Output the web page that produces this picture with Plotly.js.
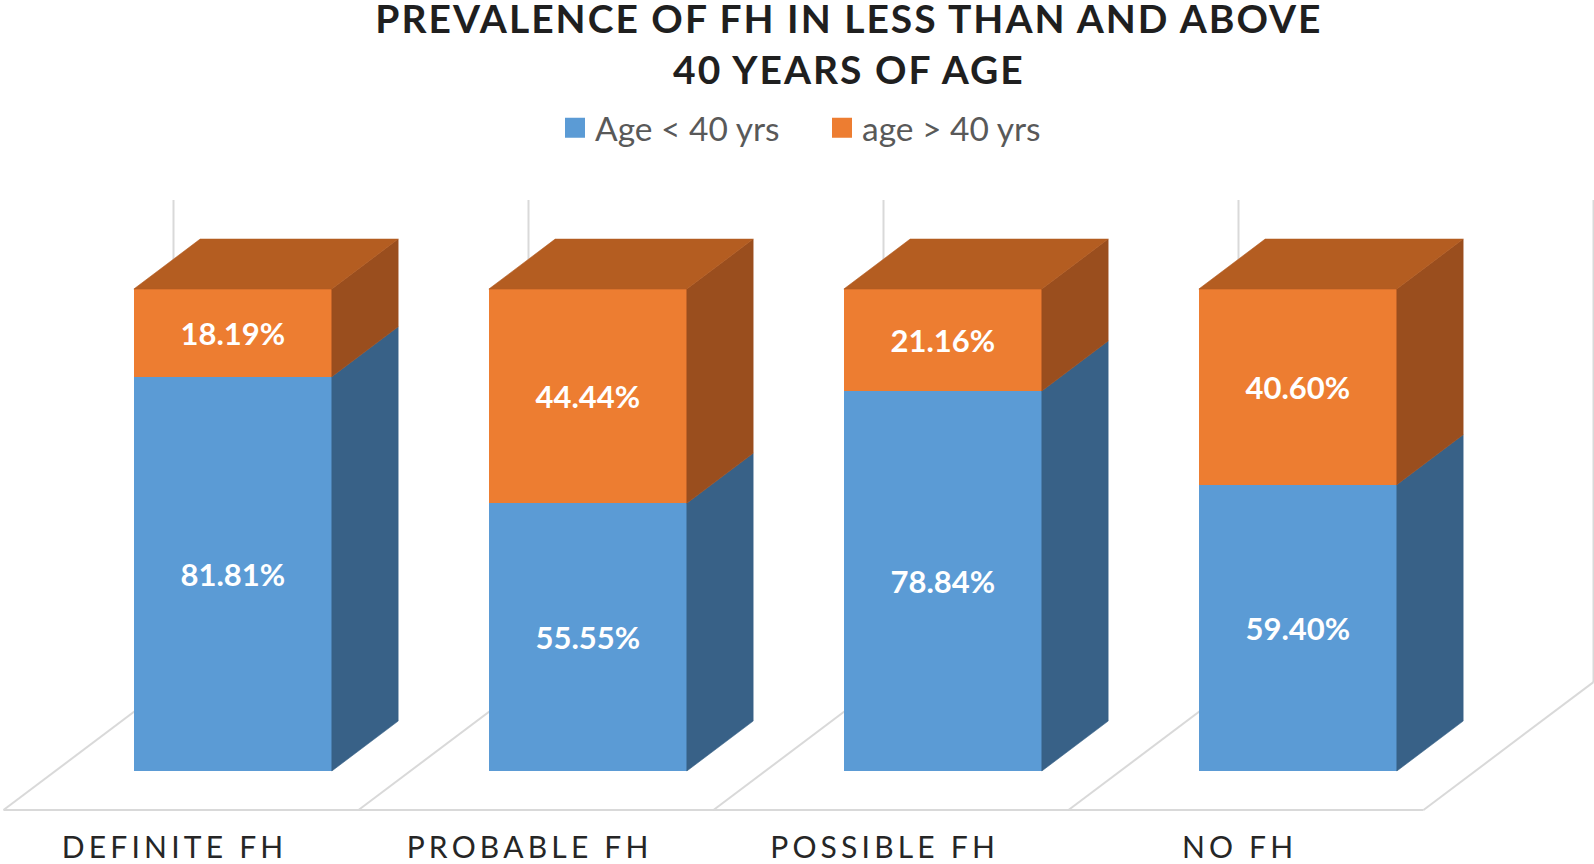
<!DOCTYPE html>
<html><head><meta charset="utf-8">
<script src="https://cdn.plot.ly/plotly-3.0.1.min.js"></script>
<style>
html,body{margin:0;padding:0;background:#fff;}
#chart{width:1594px;height:864px;}
.xtick text{letter-spacing:4.2px;}
.gtitle{letter-spacing:2px;}
</style></head><body><div id="chart"></div>
<script>
// ---- data ----
const categories = ['DEFINITE FH', 'PROBABLE FH', 'POSSIBLE FH', 'NO FH'];
const seriesNames = ['Age < 40 yrs', 'age > 40 yrs'];
const ageUnder40 = [81.81, 55.55, 78.84, 59.40];
const ageOver40 = [18.19, 44.44, 21.16, 40.60];

// ---- 3D look (oblique projection) ----
const DX = 0.4789;     // x shift (category units) for full floor depth
const DY = 26.56;      // y shift (value units) for full floor depth
const D0 = 0.305, D1 = 0.695;  // bar front / back depth fractions
const BAR_W = 0.5577;
const FLOOR_Y0 = -DY * D0;
function proj(X, Z, d) { return [X + DX * d, Z + FLOOR_Y0 + DY * d]; }

const idx = categories.map((c, i) => i);
const barX = idx.map(i => i + DX * D0);

const C = {
  blue: '#5B9BD5', blueSide: '#386187',
  orange: '#ED7D31', orangeSide: '#9A4E1E', orangeTop: '#B45D21',
  grid: '#D9D9D9'
};

function facesTrace(polys, color) {
  const x = [], y = [];
  polys.forEach(pts => {
    pts.forEach(p => { x.push(p[0]); y.push(p[1]); });
    x.push(pts[0][0], null); y.push(pts[0][1], null);
  });
  return { type: 'scatter', mode: 'lines', x, y, fill: 'toself', fillcolor: color,
    line: { color: color, width: 0.6 }, hoverinfo: 'skip', showlegend: false, connectgaps: false };
}

const sideBlue = [], sideOrange = [], topOrange = [];
idx.forEach(i => {
  const xl = i - BAR_W / 2, xr = i + BAR_W / 2;
  const b = ageUnder40[i], t = ageUnder40[i] + ageOver40[i];
  sideBlue.push([proj(xr, 0, D0), proj(xr, b, D0), proj(xr, b, D1), proj(xr, 0, D1)]);
  sideOrange.push([proj(xr, b, D0), proj(xr, t, D0), proj(xr, t, D1), proj(xr, b, D1)]);
  topOrange.push([proj(xl, t, D0), proj(xr, t, D0), proj(xr, t, D1), proj(xl, t, D1)]);
});

const labelFont = { family: 'Lato, "Open Sans", sans-serif', size: 31, color: '#FFFFFF' };

const traces = [
  { type: 'bar', name: seriesNames[0], x: barX, y: ageUnder40, width: BAR_W,
    marker: { color: C.blue, line: { width: 0 } },
    texttemplate: '<b>%{y:.2f}%</b>', textposition: 'inside', insidetextanchor: 'middle',
    textangle: 0, constraintext: 'none', insidetextfont: labelFont, hoverinfo: 'name+y' },
  { type: 'bar', name: seriesNames[1], x: barX, y: ageOver40, width: BAR_W,
    marker: { color: C.orange, line: { width: 0 } },
    texttemplate: '<b>%{y:.2f}%</b>', textposition: 'inside', insidetextanchor: 'middle',
    textangle: 0, constraintext: 'none', insidetextfont: labelFont, hoverinfo: 'name+y' },
  facesTrace(sideBlue, C.blueSide),
  facesTrace(sideOrange, C.orangeSide),
  facesTrace(topOrange, C.orangeTop)
];

// floor and back wall lines
const shapes = [];
const n = categories.length;
function seg(p, q) {
  return { type: 'line', xref: 'x', yref: 'y', layer: 'below', x0: p[0], y0: p[1], x1: q[0], y1: q[1],
    line: { color: C.grid, width: 2 } };
}
shapes.push(seg(proj(-0.5, 0, 0), proj(n - 0.5, 0, 0)));
for (let k = 0; k <= n; k++) {
  const X = k - 0.5;
  shapes.push(seg(proj(X, 0, 0), proj(X, 0, 1)));
  shapes.push(seg(proj(X, 0, 1), proj(X, 100, 1)));
}

const PX_PER_X = 355, PX_PER_Y = 4.82;
const layout = {
  width: 1594, height: 864,
  margin: { l: 0, r: 0, t: 150, b: 44, pad: 0 },
  paper_bgcolor: '#FFFFFF', plot_bgcolor: '#FFFFFF',
  barmode: 'stack',
  showlegend: true,
  title: {
    text: '<b>PREVALENCE OF FH IN LESS THAN AND ABOVE<br>40 YEARS OF AGE</b>',
    font: { family: 'Lato, "Open Sans", sans-serif', size: 39, color: '#1F1F1F' },
    x: 0.5326, xanchor: 'center', xref: 'paper', y: 0.9615, yref: 'container', yanchor: 'top',
    pad: { t: 0, b: 0 }
  },
  legend: {
    orientation: 'h', x: 555 / 1594, xanchor: 'left', y: 1.033, yanchor: 'middle',
    entrywidth: 222, entrywidthmode: 'pixels',
    font: { family: 'Lato, "Open Sans", sans-serif', size: 33.5, color: '#595959' },
    bgcolor: 'rgba(0,0,0,0)', traceorder: 'normal'
  },
  xaxis: {
    range: [-181 / PX_PER_X, (1594 - 181) / PX_PER_X],
    tickmode: 'array', tickvals: idx.map(i => i - 0.018), ticktext: categories,
    showgrid: false, zeroline: false, showline: false, ticks: '',
    ticklabelstandoff: 7,
    tickfont: { family: 'Lato, "Open Sans", sans-serif', size: 30, color: '#262626' },
    fixedrange: true
  },
  yaxis: {
    range: [-(820 - 771) / PX_PER_Y, (771 - 150) / PX_PER_Y],
    visible: false, fixedrange: true
  },
  shapes: shapes
};

Plotly.newPlot('chart', traces, layout, { displayModeBar: false, staticPlot: true }).then(() => {
  document.querySelectorAll('.legendpoints path').forEach(p => p.setAttribute('d', 'M10,10H-10V-10H10Z'));
});
</script></body></html>
